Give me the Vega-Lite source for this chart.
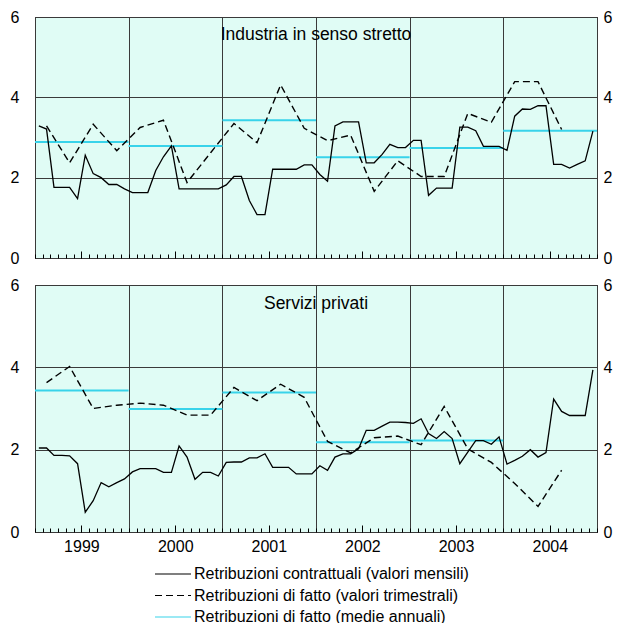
{
"$schema": "https://vega.github.io/schema/vega-lite/v6.json",
"padding": {"left": 9, "top": 8, "right": 0, "bottom": 0},
"config": {
  "font": "Liberation Sans",
  "view": {"fill": "#e0fcf5", "stroke": "#000000", "strokeWidth": 1},
  "axis": {"labelFont": "Liberation Sans", "labelFontSize": 16, "labelColor": "#000000", "title": null, "domain": false, "grid": false, "ticks": false, "labels": false, "labelOverlap": false, "labelFlush": false},
  "legend": {"labelFont": "Liberation Sans"}
},
"datasets": {
  "mensili": [
    {"d":"1999-01-16","ind":3.29,"ser":2.04},{"d":"1999-02-15","ind":3.21,"ser":2.04},{"d":"1999-03-16","ind":1.76,"ser":1.86},{"d":"1999-04-16","ind":1.76,"ser":1.86},{"d":"1999-05-16","ind":1.76,"ser":1.85},{"d":"1999-06-16","ind":1.48,"ser":1.66},{"d":"1999-07-16","ind":2.56,"ser":0.48},{"d":"1999-08-16","ind":2.10,"ser":0.76},{"d":"1999-09-16","ind":2.00,"ser":1.20},{"d":"1999-10-16","ind":1.83,"ser":1.10},{"d":"1999-11-16","ind":1.83,"ser":1.20},{"d":"1999-12-16","ind":1.72,"ser":1.29},
    {"d":"2000-01-16","ind":1.63,"ser":1.46},{"d":"2000-02-15","ind":1.63,"ser":1.54},{"d":"2000-03-16","ind":1.63,"ser":1.54},{"d":"2000-04-16","ind":2.18,"ser":1.54},{"d":"2000-05-16","ind":2.52,"ser":1.45},{"d":"2000-06-16","ind":2.79,"ser":1.45},{"d":"2000-07-16","ind":1.72,"ser":2.09},{"d":"2000-08-16","ind":1.72,"ser":1.82},{"d":"2000-09-16","ind":1.72,"ser":1.28},{"d":"2000-10-16","ind":1.72,"ser":1.45},{"d":"2000-11-16","ind":1.72,"ser":1.45},{"d":"2000-12-16","ind":1.72,"ser":1.36},
    {"d":"2001-01-16","ind":1.82,"ser":1.69},{"d":"2001-02-15","ind":2.03,"ser":1.70},{"d":"2001-03-16","ind":2.03,"ser":1.70},{"d":"2001-04-16","ind":1.43,"ser":1.80},{"d":"2001-05-16","ind":1.08,"ser":1.80},{"d":"2001-06-16","ind":1.08,"ser":1.90},{"d":"2001-07-16","ind":2.21,"ser":1.57},{"d":"2001-08-16","ind":2.21,"ser":1.57},{"d":"2001-09-16","ind":2.21,"ser":1.57},{"d":"2001-10-16","ind":2.21,"ser":1.41},{"d":"2001-11-16","ind":2.32,"ser":1.41},{"d":"2001-12-16","ind":2.32,"ser":1.41},
    {"d":"2002-01-16","ind":2.08,"ser":1.61},{"d":"2002-02-15","ind":1.91,"ser":1.50},{"d":"2002-03-16","ind":3.29,"ser":1.82},{"d":"2002-04-16","ind":3.39,"ser":1.90},{"d":"2002-05-16","ind":3.39,"ser":1.90},{"d":"2002-06-16","ind":3.39,"ser":2.02},{"d":"2002-07-16","ind":2.37,"ser":2.47},{"d":"2002-08-16","ind":2.37,"ser":2.47},{"d":"2002-09-16","ind":2.58,"ser":2.57},{"d":"2002-10-16","ind":2.83,"ser":2.67},{"d":"2002-11-16","ind":2.75,"ser":2.67},{"d":"2002-12-16","ind":2.75,"ser":2.66},
    {"d":"2003-01-16","ind":2.93,"ser":2.64},{"d":"2003-02-15","ind":2.93,"ser":2.75},{"d":"2003-03-16","ind":1.56,"ser":2.39},{"d":"2003-04-16","ind":1.74,"ser":2.27},{"d":"2003-05-16","ind":1.74,"ser":2.44},{"d":"2003-06-16","ind":1.74,"ser":2.27},{"d":"2003-07-16","ind":3.26,"ser":1.66},{"d":"2003-08-16","ind":3.26,"ser":1.94},{"d":"2003-09-16","ind":3.17,"ser":2.22},{"d":"2003-10-16","ind":2.78,"ser":2.22},{"d":"2003-11-16","ind":2.78,"ser":2.13},{"d":"2003-12-16","ind":2.78,"ser":2.31},
    {"d":"2004-01-16","ind":2.68,"ser":1.65},{"d":"2004-02-15","ind":3.53,"ser":1.74},{"d":"2004-03-16","ind":3.71,"ser":1.84},{"d":"2004-04-16","ind":3.70,"ser":2.00},{"d":"2004-05-16","ind":3.79,"ser":1.82},{"d":"2004-06-16","ind":3.79,"ser":1.93},{"d":"2004-07-16","ind":2.33,"ser":3.23},{"d":"2004-08-16","ind":2.33,"ser":2.93},{"d":"2004-09-16","ind":2.24,"ser":2.83},{"d":"2004-10-16","ind":2.33,"ser":2.83},{"d":"2004-11-16","ind":2.42,"ser":2.83},{"d":"2004-12-16","ind":3.16,"ser":3.94}
  ],
  "trimestrali": [
    {"d":"1999-02-15","ind":3.29,"ser":3.63},{"d":"1999-05-16","ind":2.37,"ser":4.02},{"d":"1999-08-16","ind":3.33,"ser":3.00},{"d":"1999-11-16","ind":2.67,"ser":3.08},
    {"d":"2000-02-15","ind":3.25,"ser":3.13},{"d":"2000-05-16","ind":3.43,"ser":3.08},{"d":"2000-08-16","ind":1.88,"ser":2.84},{"d":"2000-11-16","ind":2.62,"ser":2.84},
    {"d":"2001-02-15","ind":3.35,"ser":3.51},{"d":"2001-05-16","ind":2.87,"ser":3.19},{"d":"2001-08-16","ind":4.31,"ser":3.59},{"d":"2001-11-16","ind":3.23,"ser":3.27},
    {"d":"2002-02-15","ind":2.92,"ser":2.20},{"d":"2002-05-16","ind":3.06,"ser":1.92},{"d":"2002-08-16","ind":1.66,"ser":2.29},{"d":"2002-11-16","ind":2.42,"ser":2.33},
    {"d":"2003-02-15","ind":2.03,"ser":2.12},{"d":"2003-05-16","ind":2.03,"ser":3.05},{"d":"2003-08-16","ind":3.60,"ser":2.02},{"d":"2003-11-16","ind":3.38,"ser":1.69},
    {"d":"2004-02-15","ind":4.39,"ser":1.18},{"d":"2004-05-16","ind":4.39,"ser":0.62},{"d":"2004-08-16","ind":3.20,"ser":1.50}
  ],
  "annuali": [
    {"a":"1999-01-01","b":"2000-01-01","ind":2.89,"ser":3.44},
    {"a":"2000-01-01","b":"2001-01-01","ind":2.79,"ser":2.99},
    {"a":"2001-01-01","b":"2002-01-01","ind":3.43,"ser":3.39},
    {"a":"2002-01-01","b":"2003-01-01","ind":2.51,"ser":2.18},
    {"a":"2003-01-01","b":"2004-01-01","ind":2.74,"ser":2.22},
    {"a":"2004-01-01","b":"2005-01-01","ind":3.17,"ser":null}
  ]
},
"bounds": "flush",
"spacing": 27,
"resolve": {"scale": {"x": "independent", "y": "independent", "color": "shared"}},
"vconcat": [
  {
    "width": 562, "height": 241,
    "resolve": {"axis": {"x": "independent", "y": "independent"}},
    "layer": [
      {
        "data": {"name": "annuali"},
        "mark": {"type": "rule", "strokeWidth": 2},
        "encoding": {
          "x": {"field": "a", "type": "temporal", "scale": {"type": "utc", "nice": false, "domain": [{"year": 1999, "month": 1, "date": 1, "utc": true}, {"year": 2005, "month": 1, "date": 1, "utc": true}]}, "axis": {"orient": "bottom", "tickCount": {"interval": "year"}, "grid": true, "gridColor": "#3a3a3a", "gridWidth": 1}},
          "x2": {"field": "b"},
          "y": {"field": "ind", "type": "quantitative", "scale": {"domain": [0, 6], "nice": false}, "axis": {"orient": "left", "values": [0, 2, 4, 6], "labels": true, "labelPadding": 16, "tickSize": 0, "grid": true, "gridColor": "#3a3a3a", "gridWidth": 1}},
          "color": {"datum": "Retribuzioni di fatto (medie annuali)", "scale": {"domain": ["Retribuzioni contrattuali (valori mensili)", "Retribuzioni di fatto (valori trimestrali)", "Retribuzioni di fatto (medie annuali)"], "range": ["#000000", "#000000", "#38d3ea"]},
            "legend": {"orient": "none", "legendX": 130, "legendY": 549, "direction": "vertical", "title": null, "symbolType": "M-3,0H3", "symbolSize": 144, "symbolStrokeWidth": 1.2, "labelFontSize": 16, "labelColor": "#000000", "labelLimit": 0, "labelOffset": 13, "rowPadding": 5.5,
              "encode": {"symbols": {"update": {"strokeDash": {"signal": "datum.value === 'Retribuzioni di fatto (valori trimestrali)' ? [7, 4] : [1, 0]"}}}}}}
        }
      },
      {
        "data": {"name": "mensili"},
        "mark": {"type": "line", "strokeWidth": 1.3},
        "encoding": {
          "x": {"field": "d", "type": "temporal", "axis": {"orient": "bottom", "tickCount": {"interval": "month"}, "ticks": true, "tickSize": 4, "tickColor": "#000000", "tickWidth": 1, "offset": -4}},
          "y": {"field": "ind", "type": "quantitative", "axis": null},
          "color": {"datum": "Retribuzioni contrattuali (valori mensili)"}
        }
      },
      {
        "data": {"name": "trimestrali"},
        "mark": {"type": "line", "strokeWidth": 1.4, "strokeDash": [7, 4]},
        "encoding": {
          "x": {"field": "d", "type": "temporal", "axis": {"orient": "bottom", "values": [{"year": 1999, "month": 7, "date": 1, "utc": true}, {"year": 2000, "month": 7, "date": 1, "utc": true}, {"year": 2001, "month": 7, "date": 1, "utc": true}, {"year": 2002, "month": 7, "date": 1, "utc": true}, {"year": 2003, "month": 7, "date": 1, "utc": true}, {"year": 2004, "month": 7, "date": 1, "utc": true}], "ticks": true, "tickSize": 7, "tickColor": "#000000", "tickWidth": 1, "offset": -7, "labels": false}},
          "y": {"field": "ind", "type": "quantitative", "axis": {"orient": "right", "values": [0, 2, 4, 6], "labels": true, "labelPadding": 6, "tickSize": 0}},
          "color": {"datum": "Retribuzioni di fatto (valori trimestrali)"}
        }
      },
      {
        "data": {"values": [{"t": "Industria in senso stretto"}]},
        "mark": {"type": "text", "fontSize": 17.5, "color": "#000000", "font": "Liberation Sans"},
        "encoding": {
          "x": {"datum": {"year": 2002, "month": 1, "date": 1, "utc": true}, "type": "temporal", "axis": null},
          "y": {"datum": 5.55, "type": "quantitative", "axis": null},
          "text": {"field": "t"}
        }
      }
    ]
  },
  {
    "width": 562, "height": 247,
    "resolve": {"axis": {"x": "independent", "y": "independent"}},
    "layer": [
      {
        "data": {"name": "annuali"},
        "mark": {"type": "rule", "strokeWidth": 2},
        "encoding": {
          "x": {"field": "a", "type": "temporal", "scale": {"type": "utc", "nice": false, "domain": [{"year": 1999, "month": 1, "date": 1, "utc": true}, {"year": 2005, "month": 1, "date": 1, "utc": true}]}, "axis": {"orient": "bottom", "tickCount": {"interval": "year"}, "grid": true, "gridColor": "#3a3a3a", "gridWidth": 1}},
          "x2": {"field": "b"},
          "y": {"field": "ser", "type": "quantitative", "scale": {"domain": [0, 6], "nice": false}, "axis": {"orient": "left", "values": [0, 2, 4, 6], "labels": true, "labelPadding": 16, "tickSize": 0, "grid": true, "gridColor": "#3a3a3a", "gridWidth": 1}},
          "color": {"datum": "Retribuzioni di fatto (medie annuali)"}
        }
      },
      {
        "data": {"name": "mensili"},
        "mark": {"type": "line", "strokeWidth": 1.3},
        "encoding": {
          "x": {"field": "d", "type": "temporal", "axis": {"orient": "bottom", "tickCount": {"interval": "month"}, "ticks": true, "tickSize": 4, "tickColor": "#000000", "tickWidth": 1, "offset": -4}},
          "y": {"field": "ser", "type": "quantitative", "axis": null},
          "color": {"datum": "Retribuzioni contrattuali (valori mensili)"}
        }
      },
      {
        "data": {"name": "trimestrali"},
        "mark": {"type": "line", "strokeWidth": 1.4, "strokeDash": [7, 4]},
        "encoding": {
          "x": {"field": "d", "type": "temporal", "axis": {"orient": "bottom", "values": [{"year": 1999, "month": 7, "date": 1, "utc": true}, {"year": 2000, "month": 7, "date": 1, "utc": true}, {"year": 2001, "month": 7, "date": 1, "utc": true}, {"year": 2002, "month": 7, "date": 1, "utc": true}, {"year": 2003, "month": 7, "date": 1, "utc": true}, {"year": 2004, "month": 7, "date": 1, "utc": true}], "ticks": true, "tickSize": 7, "tickColor": "#000000", "tickWidth": 1, "offset": -7, "labels": true, "format": "%Y", "labelPadding": 6}},
          "y": {"field": "ser", "type": "quantitative", "axis": {"orient": "right", "values": [0, 2, 4, 6], "labels": true, "labelPadding": 6, "tickSize": 0}},
          "color": {"datum": "Retribuzioni di fatto (valori trimestrali)"}
        }
      },
      {
        "data": {"values": [{"t": "Servizi privati"}]},
        "mark": {"type": "text", "fontSize": 17.5, "color": "#000000", "font": "Liberation Sans"},
        "encoding": {
          "x": {"datum": {"year": 2002, "month": 1, "date": 1, "utc": true}, "type": "temporal", "axis": null},
          "y": {"datum": 5.55, "type": "quantitative", "axis": null},
          "text": {"field": "t"}
        }
      }
    ]
  }
]
}
